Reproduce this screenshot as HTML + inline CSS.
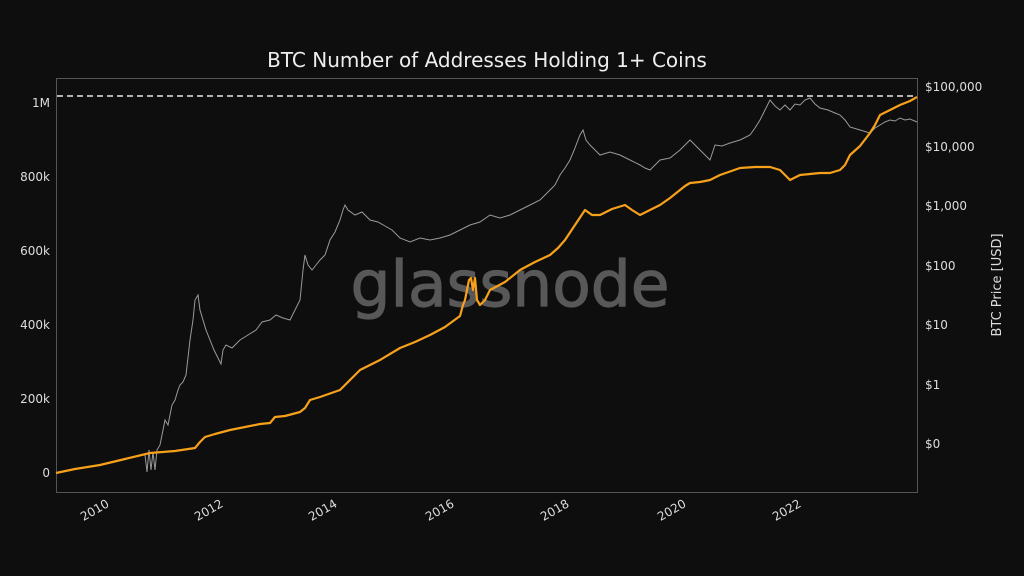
<!DOCTYPE html>
<html><head><style>
html,body{margin:0;padding:0;background:#0e0e0e;}
svg{display:block;font-family:"DejaVu Sans","Liberation Sans",sans-serif;}
</style></head><body>
<svg width="1024" height="576" viewBox="0 0 1024 576">
<rect width="1024" height="576" fill="#0e0e0e"/>
<text x="487" y="67" fill="#eeeeee" font-size="20" text-anchor="middle">BTC Number of Addresses Holding 1+ Coins</text>
<text x="510" y="306" fill="#585858" font-size="63" text-anchor="middle" stroke="#585858" stroke-width="1.2" font-family="DejaVu Sans,sans-serif">glassnode</text>
<rect x="56.5" y="78.5" width="861" height="414" fill="none" stroke="#555" stroke-width="1"/>
<g fill="#dddddd" font-size="12" text-anchor="end">
<text x="50" y="107">1M</text><text x="50" y="181">800k</text><text x="50" y="255">600k</text><text x="50" y="329">400k</text><text x="50" y="403">200k</text><text x="50" y="477">0</text>
</g>
<g fill="#dddddd" font-size="12">
<text x="925" y="91">$100,000</text><text x="925" y="151">$10,000</text><text x="925" y="210">$1,000</text><text x="925" y="270">$100</text><text x="925" y="329">$10</text><text x="925" y="389">$1</text><text x="925" y="448">$0</text>
</g>
<text transform="translate(1001,285) rotate(-90)" fill="#dddddd" font-size="13" text-anchor="middle">BTC Price [USD]</text>
<g fill="#dddddd" font-size="12" text-anchor="end">
<text transform="translate(110,506) rotate(-30)">2010</text>
<text transform="translate(224,506) rotate(-30)">2012</text>
<text transform="translate(338,506) rotate(-30)">2014</text>
<text transform="translate(455,506) rotate(-30)">2016</text>
<text transform="translate(570,506) rotate(-30)">2018</text>
<text transform="translate(687,506) rotate(-30)">2020</text>
<text transform="translate(802,506) rotate(-30)">2022</text>
</g>
<line x1="57" y1="96" x2="917" y2="96" stroke="#e8e8e8" stroke-width="1.6" stroke-dasharray="6,4"/>
<polyline fill="none" stroke="#9a9a9a" stroke-width="1" points="145,455 147,472 149,450 151,470 153,452 155,470 157,450 160,445 163,430 165,420 168,425 172,405 175,400 178,390 180,385 183,382 186,375 190,340 193,320 195,300 198,295 200,310 203,320 206,330 210,340 214,350 218,358 221,364 223,350 226,345 232,348 240,340 248,335 256,330 262,322 270,320 276,315 283,318 290,320 295,310 300,300 303,270 305,255 308,265 312,270 316,265 320,260 325,255 330,240 335,232 340,220 343,210 345,205 348,210 355,215 362,212 370,220 378,222 385,226 392,230 400,238 410,242 420,238 430,240 440,238 450,235 460,230 470,225 480,222 490,215 500,218 510,215 520,210 530,205 540,200 550,190 555,185 560,175 565,168 570,160 575,148 578,140 580,135 583,130 586,140 590,145 595,150 600,155 610,152 620,155 630,160 640,165 645,168 650,170 655,165 660,160 670,158 680,150 685,145 690,140 695,145 700,150 705,155 710,160 715,145 722,146 730,143 740,140 750,135 755,128 760,120 765,110 770,100 775,106 780,110 785,105 790,110 795,104 800,105 805,100 810,98 815,104 820,108 828,110 835,113 840,115 845,120 850,127 860,130 870,133 875,128 880,125 885,122 890,120 895,121 900,118 905,120 910,119 917,122"/>
<polyline fill="none" stroke="#f7a11b" stroke-width="2.2" stroke-linejoin="round" points="56,473 75,469 100,465 125,459 150,453 175,451 195,448 200,442 205,437 215,434 230,430 245,427 260,424 270,423 275,417 285,416 300,412 305,408 310,400 320,397 340,390 350,380 360,370 380,360 400,348 415,342 430,335 445,327 460,316 463,305 465,300 467,290 469,280 471,278 473,290 475,278 477,300 480,305 485,300 490,290 505,282 520,270 535,262 550,255 558,248 565,240 575,225 585,210 592,215 600,215 612,209 625,205 632,210 640,215 650,210 660,205 670,198 680,190 685,186 690,183 700,182 710,180 720,175 740,168 755,167 770,167 780,170 790,180 800,175 810,174 820,173 830,173 840,170 845,165 850,155 860,146 870,133 875,125 880,115 890,110 900,105 910,101 917,97"/>
</svg>
</body></html>
